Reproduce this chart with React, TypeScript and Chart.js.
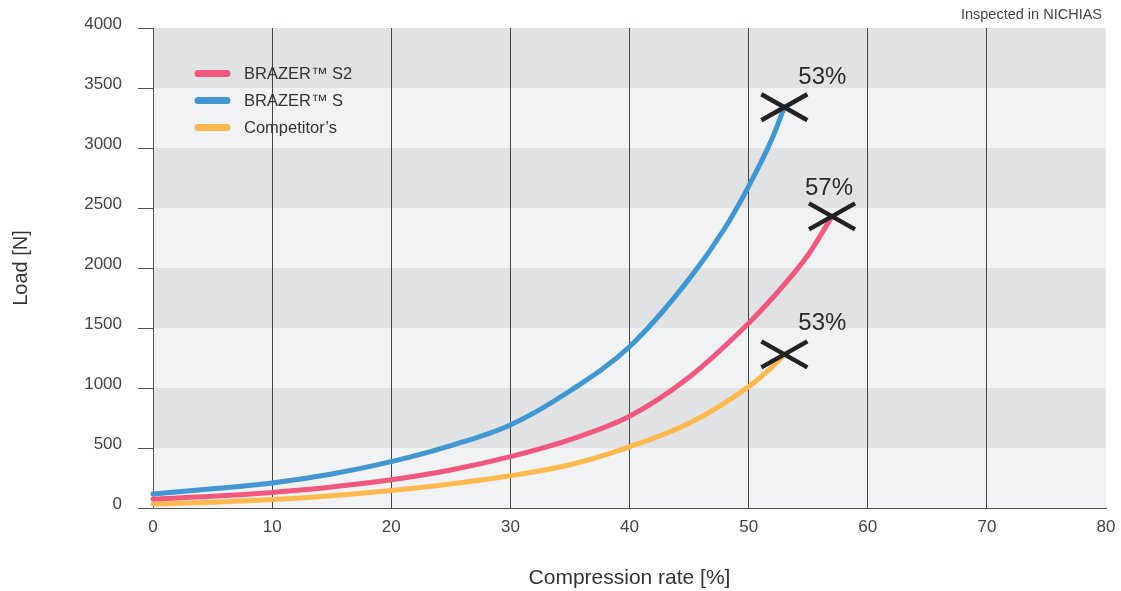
import React, { useEffect, useRef } from "react";
import { Chart, registerables } from "chart.js";

Chart.register(...registerables);

const seriesNames = ["BRAZER™ S2", "BRAZER™ S", "Competitor’s"];
const seriesColors = ["#f0597d", "#4297d3", "#fdb94e"];

const s2X = [0, 5, 10, 15, 20, 25, 30, 35, 40, 45, 50, 52, 55, 57];
const s2Y = [75, 97, 130, 175, 235, 317, 428, 570, 765, 1090, 1540, 1750, 2110, 2430];

const sX = [0, 5, 10, 15, 20, 25, 30, 35, 40, 45, 48, 50, 52, 53];
const sY = [117, 160, 208, 283, 386, 520, 692, 975, 1344, 1907, 2331, 2680, 3085, 3340];

const compX = [0, 5, 10, 15, 20, 25, 30, 35, 40, 45, 50, 52, 53];
const compY = [33, 47, 70, 102, 145, 200, 268, 360, 510, 706, 1011, 1178, 1280];

const endLabels = ["57%", "53%", "53%"];
const endLabelOffsets = [
  [-3, -28],
  [38, -30],
  [38, -31],
];

const xTicksMin = 0;
const xTicksMax = 80;
const xStep = 10;
const yTicksMin = 0;
const yTicksMax = 4000;
const yStep = 500;

const xTitle = "Compression rate [%]";
const yTitle = "Load [N]";
const noteText = "Inspected in NICHIAS";

const FONT = "'Liberation Sans', Arial, sans-serif";

const toPoints = (xs: number[], ys: number[]) => xs.map((x, i) => ({ x, y: ys[i] }));

const bandsPlugin = {
  id: "bands",
  beforeDraw(chart: any) {
    const { ctx, chartArea, scales } = chart;
    const y = scales.y;
    ctx.save();
    let idx = 0;
    for (let v = yTicksMax; v > yTicksMin; v -= yStep) {
      const top = y.getPixelForValue(v);
      const bot = y.getPixelForValue(v - yStep);
      ctx.fillStyle = idx % 2 === 0 ? "#e1e2e4" : "#f1f2f4";
      ctx.fillRect(chartArea.left, top, chartArea.right - chartArea.left, bot - top);
      idx++;
    }
    ctx.restore();
  },
};

const decorPlugin = {
  id: "decor",
  afterDatasetsDraw(chart: any) {
    const { ctx } = chart;
    ctx.save();
    chart.data.datasets.forEach((ds: any, i: number) => {
      const meta = chart.getDatasetMeta(i);
      const pt = meta.data[meta.data.length - 1];
      const cx = pt.x;
      const cy = pt.y;
      ctx.strokeStyle = "#222222";
      ctx.lineWidth = 4.5;
      ctx.lineCap = "butt";
      ctx.beginPath();
      ctx.moveTo(cx - 23, cy + 13);
      ctx.lineTo(cx + 23, cy - 13);
      ctx.moveTo(cx - 23, cy - 13);
      ctx.lineTo(cx + 23, cy + 13);
      ctx.stroke();
      ctx.fillStyle = "#2a2a2a";
      ctx.font = `24px ${FONT}`;
      ctx.textAlign = "center";
      ctx.textBaseline = "middle";
      ctx.fillText(endLabels[i], cx + endLabelOffsets[i][0], cy + endLabelOffsets[i][1]);
    });
    const lx0 = 198;
    const lx1 = 227;
    const rows = [73.5, 100.5, 127.5];
    chart.data.datasets.forEach((ds: any, i: number) => {
      ctx.strokeStyle = ds.borderColor;
      ctx.lineWidth = 7;
      ctx.lineCap = "round";
      ctx.beginPath();
      ctx.moveTo(lx0, rows[i]);
      ctx.lineTo(lx1, rows[i]);
      ctx.stroke();
      ctx.fillStyle = "#333333";
      ctx.font = `16.5px ${FONT}`;
      ctx.textAlign = "left";
      ctx.textBaseline = "middle";
      ctx.fillText(ds.label, 244, rows[i] + 1);
    });
    ctx.fillStyle = "#444444";
    ctx.font = `14.5px ${FONT}`;
    ctx.textAlign = "right";
    ctx.textBaseline = "middle";
    ctx.fillText(noteText, 1102, 15);
    ctx.restore();
  },
};

export default function App() {
  const ref = useRef<HTMLCanvasElement | null>(null);
  useEffect(() => {
    if (!ref.current) return;
    const xsList = [s2X, sX, compX];
    const ysList = [s2Y, sY, compY];
    const chart = new Chart(ref.current, {
      type: "line",
      data: {
        datasets: seriesNames.map((name, i) => ({
          label: name,
          data: toPoints(xsList[i], ysList[i]),
          borderColor: seriesColors[i],
          backgroundColor: seriesColors[i],
          borderWidth: 5,
          borderCapStyle: "round",
          pointRadius: 0,
          cubicInterpolationMode: "monotone",
          fill: false,
          clip: false,
        })) as any,
      },
      options: {
        responsive: false,
        animation: false,
        devicePixelRatio: 1,
        layout: { padding: { top: 28, right: 15, left: 0, bottom: 0 } },
        plugins: {
          legend: { display: false },
          tooltip: { enabled: false },
          title: { display: false },
        },
        scales: {
          x: {
            type: "linear",
            min: xTicksMin,
            max: xTicksMax,
            ticks: {
              stepSize: xStep,
              color: "#444444",
              font: { family: FONT, size: 17 },
              padding: 9,
            },
            grid: {
              drawTicks: false,
              color: (c: any) =>
                c.tick && (c.tick.value === xTicksMin || c.tick.value === xTicksMax)
                  ? "rgba(0,0,0,0)"
                  : "#444444",
              lineWidth: 1,
            },
            border: { display: true, color: "#555555", width: 1 },
            title: {
              display: true,
              text: xTitle,
              color: "#333333",
              font: { family: FONT, size: 21 },
              padding: { top: 0, bottom: 0 },
            },
            afterFit: (s: any) => {
              s.height = 83;
              s.paddingLeft = 0;
              s.paddingRight = 0;
            },
          },
          y: {
            type: "linear",
            min: yTicksMin,
            max: yTicksMax,
            ticks: {
              stepSize: yStep,
              color: "#444444",
              font: { family: FONT, size: 17 },
              padding: 16,
              labelOffset: -4,
              callback: (v: any) => String(v),
            },
            grid: {
              drawOnChartArea: false,
              drawTicks: true,
              tickLength: 15,
              color: "#555555",
              lineWidth: 1,
            },
            border: { display: true, color: "#555555", width: 1 },
            title: {
              display: true,
              text: yTitle,
              color: "#333333",
              font: { family: FONT, size: 20 },
              padding: { top: 9, bottom: 0 },
            },
            afterFit: (s: any) => {
              s.width = 153;
              s.paddingTop = 0;
              s.paddingBottom = 0;
            },
          },
        },
      },
      plugins: [bandsPlugin, decorPlugin],
    });
    return () => chart.destroy();
  }, []);
  return (
    <div style={{ position: "absolute", left: 0, top: 0, width: 1121, height: 591 }}>
      <canvas ref={ref} width={1121} height={591} />
    </div>
  );
}
